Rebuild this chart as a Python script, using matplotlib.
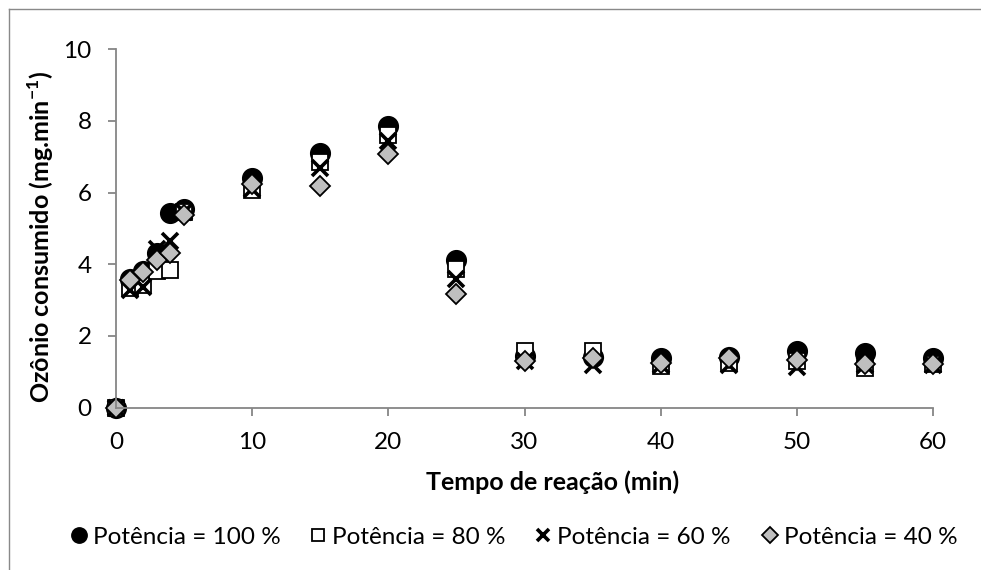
import matplotlib
matplotlib.use("Agg")
import matplotlib.pyplot as plt
from matplotlib.lines import Line2D

plt.rcParams['font.family'] = ['Lato', 'DejaVu Sans']
plt.rcParams['mathtext.fontset'] = 'custom'
plt.rcParams['mathtext.rm'] = 'Lato'
plt.rcParams['mathtext.bf'] = 'Lato:bold'

tempo = [0, 1, 2, 3, 4, 5, 10, 15, 20, 25, 30, 35, 40, 45, 50, 55, 60]
p100 = [0, 3.59, 3.80, 4.32, 5.42, 5.55, 6.40, 7.10, 7.87, 4.12, 1.45, 1.40, 1.38, 1.42, 1.57, 1.52, 1.37]
p80 = [0, 3.35, 3.42, 3.82, 3.84, 5.45, 6.08, 6.85, 7.62, 3.88, 1.57, 1.58, 1.15, 1.25, 1.30, 1.10, 1.22]
p60 = [0, 3.28, 3.36, 4.42, 4.65, 5.45, 6.10, 6.70, 7.43, 3.60, 1.30, 1.20, 1.18, 1.20, 1.12, 1.18, 1.20]
p40 = [0, 3.56, 3.78, 4.12, 4.30, 5.38, 6.25, 6.18, 7.08, 3.16, 1.30, 1.37, 1.25, 1.38, 1.32, 1.22, 1.22]
labels = ["Potência = 100 %", "Potência = 80 %", "Potência = 60 %", "Potência = 40 %"]
xticks = [0, 10, 20, 30, 40, 50, 60]
yticks = [0, 2, 4, 6, 8, 10]

W, H = 981, 570
fig = plt.figure(figsize=(W / 100, H / 100), dpi=100)
ax = fig.add_axes([116 / W, 1 - 407.5 / H, (933 - 116) / W, (407.5 - 49.3) / H])

ax.plot(tempo, p100, linestyle='none', marker='o', markersize=14.2,
        markerfacecolor='black', markeredgecolor='black', clip_on=False, label=labels[0])
ax.plot(tempo, p80, linestyle='none', marker='s', markersize=11.2,
        markerfacecolor='white', markeredgecolor='black', markeredgewidth=1.3, clip_on=False, label=labels[1])
ax.plot(tempo, p60, linestyle='none', marker='x', markersize=11.5,
        markeredgecolor='black', markeredgewidth=2.6, clip_on=False, label=labels[2])
ax.plot(tempo, p40, linestyle='none', marker='D', markersize=10.0,
        markerfacecolor='#BFBFBF', markeredgecolor='black', markeredgewidth=1.3, clip_on=False, label=labels[3])

ax.set_xlim(0, 60)
ax.set_ylim(0, 10)
ax.set_xticks(xticks)
ax.set_yticks(yticks)
for s in ['top', 'right']:
    ax.spines[s].set_visible(False)
for s in ['left', 'bottom']:
    ax.spines[s].set_color('#868686')
    ax.spines[s].set_linewidth(1.3)
ax.tick_params(axis='both', direction='out', length=5.5, width=1.3, color='#868686', labelsize=17.5)
ax.tick_params(axis='x', pad=12)
ax.tick_params(axis='y', pad=12)

ax.set_xlabel("Tempo de reação (min)", fontsize=18, fontweight='bold')
ax.xaxis.set_label_coords((553 - 116) / (933 - 116), -(470 - 407.5) / (407.5 - 49.3))
ax.set_ylabel(r"Ozônio consumido (mg.min$^{\mathbf{-1}}$)", fontsize=18, fontweight='bold')
ax.yaxis.set_label_coords(-(116 - 56) / (933 - 116), 0.475)

# legend entries laid out like the original (one entry per slot)
handles, hlabels = ax.get_legend_handles_labels()
slot_x = [79, 318, 543, 770]
for h, lab, sx in zip(handles, hlabels, slot_x):
    fig.legend([h], [lab], loc='center left', bbox_to_anchor=((sx - 9.1) / W, 1 - 537 / H),
               frameon=False, fontsize=17.5, handletextpad=0.2, handlelength=0.75,
               markerscale=0.78, borderpad=0, borderaxespad=0)

fig.add_artist(Line2D([8.5 / W, 8.5 / W], [0, 1 - 8.5 / H], transform=fig.transFigure,
                      color='#898989', linewidth=1.0))
fig.add_artist(Line2D([8.5 / W, 1], [1 - 8.5 / H, 1 - 8.5 / H], transform=fig.transFigure,
                      color='#898989', linewidth=1.0))

fig.savefig("out.png", dpi=100)
